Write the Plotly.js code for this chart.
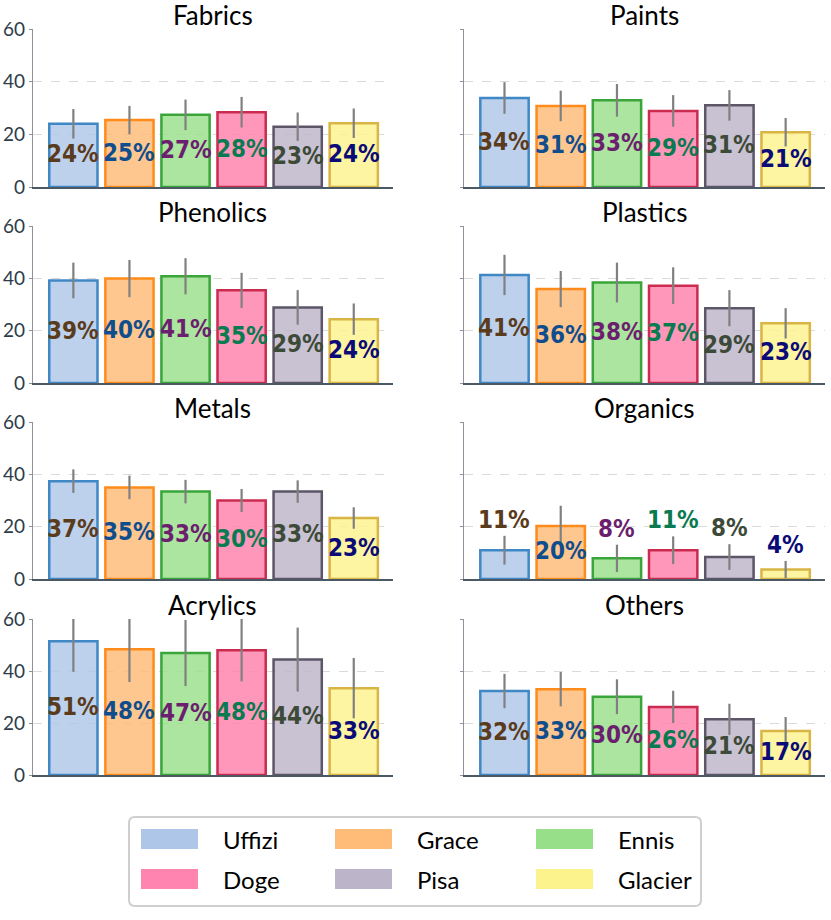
<!DOCTYPE html>
<html>
<head>
<meta charset="utf-8">
<script src="https://cdn.plot.ly/plotly-3.0.1.min.js"></script>
<style>
  html, body { margin: 0; padding: 0; background: #ffffff; }
  #chart { width: 831px; height: 920px; }
</style>
</head>
<body>
<div id="chart"></div>
<script>
// ---------------- data ----------------
const categories = ['Fabrics', 'Paints', 'Phenolics', 'Plastics', 'Metals', 'Organics', 'Acrylics', 'Others'];
const seriesNames = ['Uffizi', 'Grace', 'Ennis', 'Doge', 'Pisa', 'Glacier'];

const fabricsVals   = [24.0, 25.4, 27.4, 28.4, 22.9, 24.2];
const fabricsErr    = [5.6, 5.4, 5.8, 5.8, 5.4, 5.6];
const paintsVals    = [33.8, 30.8, 32.9, 28.9, 31.0, 20.8];
const paintsErr     = [6.0, 5.8, 6.2, 6.0, 5.8, 5.4];
const phenolicsVals = [39.2, 39.9, 40.8, 35.4, 28.9, 24.4];
const phenolicsErr  = [6.8, 7.1, 6.9, 6.7, 6.6, 6.0];
const plasticsVals  = [41.3, 35.9, 38.4, 37.2, 28.6, 22.8];
const plasticsErr   = [7.7, 6.9, 7.6, 7.0, 6.9, 5.8];
const metalsVals    = [37.4, 35.0, 33.4, 30.0, 33.4, 23.3];
const metalsErr     = [4.5, 4.5, 4.5, 4.4, 4.3, 4.1];
const organicsVals  = [11.0, 20.3, 7.9, 11.0, 8.4, 3.6];
const organicsErr   = [5.5, 7.7, 5.2, 5.3, 4.9, 3.3];
const acrylicsVals  = [51.4, 48.4, 46.9, 48.0, 44.4, 33.4];
const acrylicsErr   = [11.7, 12.6, 12.7, 12.0, 12.3, 11.6];
const othersVals    = [32.3, 33.0, 30.1, 26.2, 21.4, 16.9];
const othersErr     = [6.6, 6.6, 6.7, 6.2, 6.0, 5.4];

const yTicks = [0, 20, 40, 60];

// ---------------- styles ----------------
const swatchColors = ['#aec7e8', '#ffbb78', '#98df8a', '#ff85b0', '#bcb5c9', '#fcf38c'];
const fillColors   = ['rgba(174,199,232,0.82)', 'rgba(255,187,120,0.82)', 'rgba(152,223,138,0.82)',
                      'rgba(255,128,172,0.82)', 'rgba(188,181,201,0.82)', 'rgba(252,243,140,0.82)'];
const borderColors = ['#3f88c5', '#ff8c1a', '#3aa63a', '#cc2b50', '#5c5668', '#d8b544'];
const labelColors  = ['#5a3b1c', '#0f4d8c', '#6b1f6e', '#0a7a50', '#3d4a38', '#0b0b78'];

const valueSets = [fabricsVals, paintsVals, phenolicsVals, plasticsVals, metalsVals, organicsVals, acrylicsVals, othersVals];
const errSets   = [fabricsErr, paintsErr, phenolicsErr, plasticsErr, metalsErr, organicsErr, acrylicsErr, othersErr];

const W = 831, H = 920;
const px = x => x / W;
const py = y => 1 - y / H;

const colX = [[33, 393], [464, 825]];
const rowY = [[29, 187], [226, 383], [422, 579], [619, 775]];

const traces = [];
const annotations = [];
const shapes = [];
const layout = {
  width: W, height: H,
  margin: {l: 0, r: 0, t: 0, b: 0},
  paper_bgcolor: '#ffffff',
  plot_bgcolor: '#ffffff',
  showlegend: false,
  font: {family: 'Lato, "Open Sans", sans-serif', color: '#000000'},
  bargap: 0.14
};

categories.forEach((cat, k) => {
  const r = Math.floor(k / 2), c = k % 2;
  const sfx = k === 0 ? '' : String(k + 1);
  const xa = 'x' + sfx, ya = 'y' + sfx;
  const vals = valueSets[k], errs = errSets[k];

  layout['xaxis' + sfx] = {
    domain: [px(colX[c][0]), px(colX[c][1])],
    anchor: ya,
    type: 'category',
    range: [-0.72, 5.7],
    showticklabels: false,
    ticks: '',
    showgrid: false,
    zeroline: false,
    showline: true,
    linecolor: '#4d5865',
    linewidth: 1.5,
    fixedrange: true,
    automargin: false
  };
  layout['yaxis' + sfx] = {
    domain: [py(rowY[r][1]), py(rowY[r][0])],
    anchor: xa,
    range: [0, 60],
    tickmode: 'array',
    tickvals: yTicks,
    ticktext: yTicks.map(String),
    showticklabels: c === 0,
    ticks: 'outside',
    ticklen: 3,
    tickwidth: 1,
    tickcolor: '#8c939c',
    tickfont: {family: 'Lato, sans-serif', size: 19, color: '#2d3b4a'},
    showline: true,
    linecolor: '#8c939c',
    linewidth: 1.2,
    showgrid: true,
    gridcolor: '#dadada',
    griddash: 'dash',
    gridwidth: 1,
    zeroline: false,
    fixedrange: true,
    automargin: false
  };

  traces.push({
    type: 'bar',
    x: seriesNames,
    y: vals,
    xaxis: xa,
    yaxis: ya,
    width: 0.86,
    marker: {color: fillColors, line: {color: borderColors, width: 2.5}},
    error_y: {type: 'data', array: errs, visible: true, color: '#808080', thickness: 2.2, width: 0},
    hoverinfo: 'skip',
    showlegend: false
  });

  // value labels
  vals.forEach((v, i) => {
    const inside = v >= 15;
    annotations.push({
      xref: xa, yref: ya,
      x: seriesNames[i],
      y: inside ? v / 2 : v + errs[i],
      yanchor: inside ? 'middle' : 'bottom',
      xanchor: 'center',
      yshift: inside ? 1 : 0,
      text: Math.round(v) + '%',
      showarrow: false,
      font: {family: '"DejaVu Sans Condensed", "DejaVu Sans", sans-serif', size: 24, color: labelColors[i], weight: 700}
    });
  });

  // panel title
  annotations.push({
    xref: 'paper', yref: 'paper',
    x: (px(colX[c][0]) + px(colX[c][1])) / 2,
    y: py(rowY[r][0]),
    xanchor: 'center', yanchor: 'middle',
    yshift: 14,
    text: cat,
    showarrow: false,
    font: {family: 'Lato, sans-serif', size: 26, color: '#000000'}
  });
});

// ---------------- legend (drawn in paper space) ----------------
const boxL = 129, boxR = 701, boxT = 817, boxB = 906, rad = 6;
const rx = rad / W, ry = rad / H;
const L = px(boxL), R = px(boxR), T = py(boxT), B = py(boxB);
shapes.push({
  type: 'path', xref: 'paper', yref: 'paper',
  path: `M ${L + rx},${T} L ${R - rx},${T} Q ${R},${T} ${R},${T - ry} L ${R},${B + ry} Q ${R},${B} ${R - rx},${B} ` +
        `L ${L + rx},${B} Q ${L},${B} ${L},${B + ry} L ${L},${T - ry} Q ${L},${T} ${L + rx},${T} Z`,
  line: {color: '#cfcfcf', width: 2},
  fillcolor: 'rgba(255,255,255,0.9)'
});
const legSwatchX = [141, 335, 536];
const legTextX = [221, 415, 616];
const legRowY = [839, 879];
seriesNames.forEach((name, i) => {
  const r = Math.floor(i / 3), c = i % 3;
  shapes.push({
    type: 'rect', xref: 'paper', yref: 'paper',
    x0: px(legSwatchX[c]), x1: px(legSwatchX[c] + 57),
    y0: py(legRowY[r] + 10), y1: py(legRowY[r] - 10),
    fillcolor: swatchColors[i],
    line: {width: 0}
  });
  annotations.push({
    xref: 'paper', yref: 'paper',
    x: px(legTextX[c]), y: py(legRowY[r]),
    xanchor: 'left', yanchor: 'middle',
    text: name, showarrow: false,
    font: {family: 'Lato, sans-serif', size: 24, color: '#000000'}
  });
});

layout.annotations = annotations;
layout.shapes = shapes;

Plotly.newPlot('chart', traces, layout, {displayModeBar: false, staticPlot: true});
</script>
</body>
</html>
